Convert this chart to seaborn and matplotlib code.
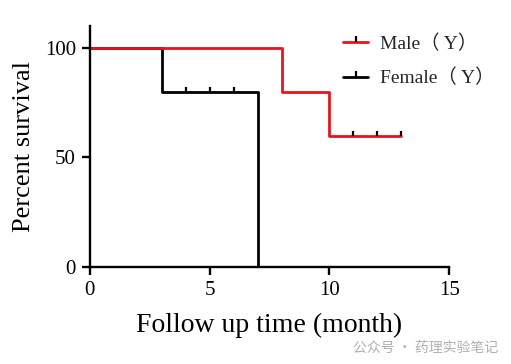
import matplotlib
matplotlib.use("Agg")
import matplotlib.pyplot as plt
import seaborn as sns
from matplotlib.lines import Line2D

# step points of the survival curves
male_time = [0, 8, 10, 13]
male_surv = [100, 80, 60, 60]
female_time = [0, 3, 7]
female_surv = [100, 80, 0]

# censored observations
male_cens_time = [11, 12, 13]
male_cens_surv = [60, 60, 60]
female_cens_time = [4, 5, 6]
female_cens_surv = [80, 80, 80]

labels = ["Male\uff08 Y\uff09", "Female\uff08 Y\uff09"]

sns.set_style("ticks")
plt.rcParams["font.family"] = ["Liberation Serif", "Noto Sans CJK SC"]

fig = plt.figure(figsize=(5.11, 3.64), dpi=100)
ax = fig.add_axes([0.176, 0.266, 0.703, 0.663])

up_tick = [(0, 0), (0, 1)]

sns.lineplot(x=female_time, y=female_surv, drawstyle="steps-post",
             color="black", linewidth=2.0, ax=ax)
sns.lineplot(x=male_time, y=male_surv, drawstyle="steps-post",
             color="#e8141b", linewidth=2.0, ax=ax)
ax.plot(female_cens_time, female_cens_surv, linestyle="none", marker=up_tick,
        markersize=6.5, markeredgewidth=1.6, color="black")
ax.plot(male_cens_time, male_cens_surv, linestyle="none", marker=up_tick,
        markersize=6.5, markeredgewidth=1.6, color="black")

ax.set_xlim(0, 15)
ax.set_ylim(0, 110)
ax.set_xticks([0, 5, 10, 15])
ax.set_yticks([0, 50, 100])
sns.despine(ax=ax)
for s in ["left", "bottom"]:
    ax.spines[s].set_linewidth(1.7)
    ax.spines[s].set_color("black")
ax.tick_params(axis="both", length=6, width=1.7, labelsize=15, colors="black", pad=4)
ax.set_xlabel("Follow up time (month)", fontsize=20, color="black", labelpad=9)
ax.set_ylabel("Percent survival", fontsize=19, color="black", labelpad=7)

handles = [
    Line2D([], [], color="#e8141b", linewidth=2.0, marker=up_tick, markersize=8,
           markeredgewidth=1.6, markeredgecolor="black"),
    Line2D([], [], color="black", linewidth=2.0, marker=up_tick, markersize=8,
           markeredgewidth=1.6),
]
ax.legend(handles, labels, loc="upper left", bbox_to_anchor=(0.705, 0.963),
          borderaxespad=0, borderpad=0, frameon=False, fontsize=14,
          handlelength=1.3, handletextpad=0.6, labelspacing=0.8)

fig.text(0.975, 0.045, "\u516c\u4f17\u53f7 \u00b7 \u836f\u7406\u5b9e\u9a8c\u7b14\u8bb0",
         ha="right", va="center", fontsize=10, color="#b0b0b0",
         family=["Noto Sans CJK SC", "DejaVu Sans"])

fig.savefig("out.png", dpi=100, facecolor="white")
